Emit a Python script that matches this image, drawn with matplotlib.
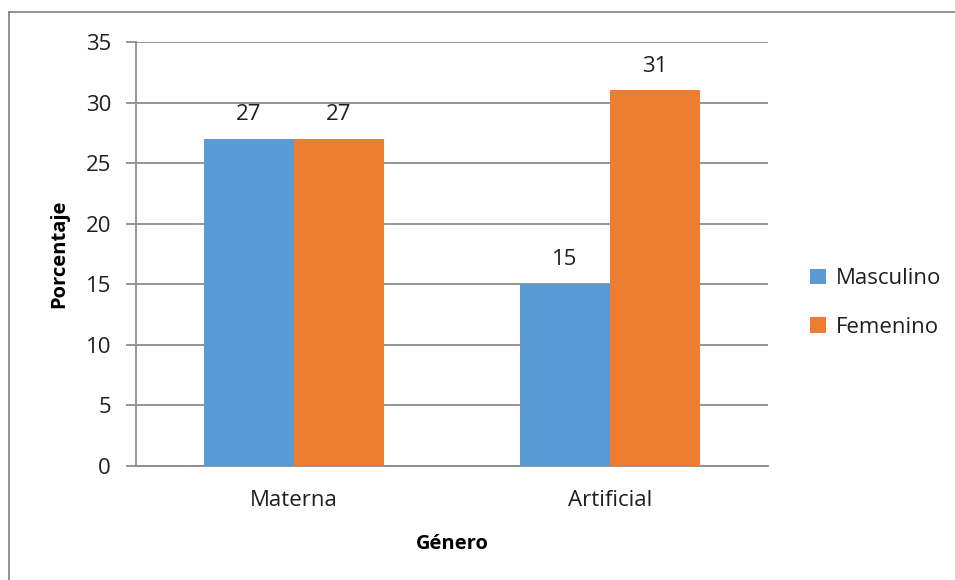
import numpy as np
import matplotlib.pyplot as plt
from matplotlib.lines import Line2D

plt.rcParams['font.family'] = ['Open Sans', 'DejaVu Sans']

categorias = ['Materna', 'Artificial']
masculino = [27, 15]
femenino = [27, 31]
series = ['Masculino', 'Femenino']
colores = ['#5B9BD5', '#ED7D31']
texto = '#1F1F1F'
gris = '#8C8C8C'

fig = plt.figure(figsize=(9.55, 5.8), dpi=100)
ax = fig.add_axes([136 / 955, 114 / 580, 632 / 955, 424 / 580])

x = np.arange(len(categorias))
w = 0.285
b1 = ax.bar(x - w / 2, masculino, w, color=colores[0], label=series[0], zorder=3)
b2 = ax.bar(x + w / 2, femenino, w, color=colores[1], label=series[1], zorder=3)

# etiquetas de valor sobre cada barra
for bars, vals in [(b1, masculino), (b2, femenino)]:
    for r, v in zip(bars, vals):
        ax.annotate(str(v), (r.get_x() + r.get_width() / 2, v),
                    xytext=(0, 10), textcoords='offset points',
                    ha='center', va='bottom', fontsize=16, color=texto)

ax.set_xlim(-0.5, 1.5)
ax.set_ylim(0, 35)
ax.set_yticks(np.arange(0, 36, 5))
ax.set_xticks(x)
ax.set_xticklabels(categorias)
ax.yaxis.grid(True, color=gris, linewidth=1.3, zorder=0)
for s in ['top', 'right']:
    ax.spines[s].set_visible(False)
for s in ['left', 'bottom']:
    ax.spines[s].set_color(gris)
    ax.spines[s].set_linewidth(1.3)
ax.tick_params(axis='y', length=7, width=1.3, color=gris, pad=11,
               labelsize=16, labelcolor=texto)
ax.tick_params(axis='x', length=0, pad=17, labelsize=16, labelcolor=texto)

ax.set_ylabel('Porcentaje', fontsize=14.5, fontweight='bold', color='black', labelpad=12)
ax.set_xlabel('Género', fontsize=14.5, fontweight='bold', color='black', labelpad=17)

leg = fig.legend(loc='center left', bbox_to_anchor=(790 / 955, 1 - 303 / 580),
                 frameon=False, fontsize=16, handlelength=0.7, handleheight=0.7,
                 handletextpad=0.45, labelspacing=1.25)
for t in leg.get_texts():
    t.set_color(texto)

# marco del gráfico
fig.add_artist(Line2D([9 / 955, 1], [1 - 12 / 580, 1 - 12 / 580], color='#7F7F7F', lw=1.2))
fig.add_artist(Line2D([9 / 955, 9 / 955], [0, 1 - 12 / 580], color='#7F7F7F', lw=1.2))

fig.savefig('out.png', dpi=100, facecolor='white')
